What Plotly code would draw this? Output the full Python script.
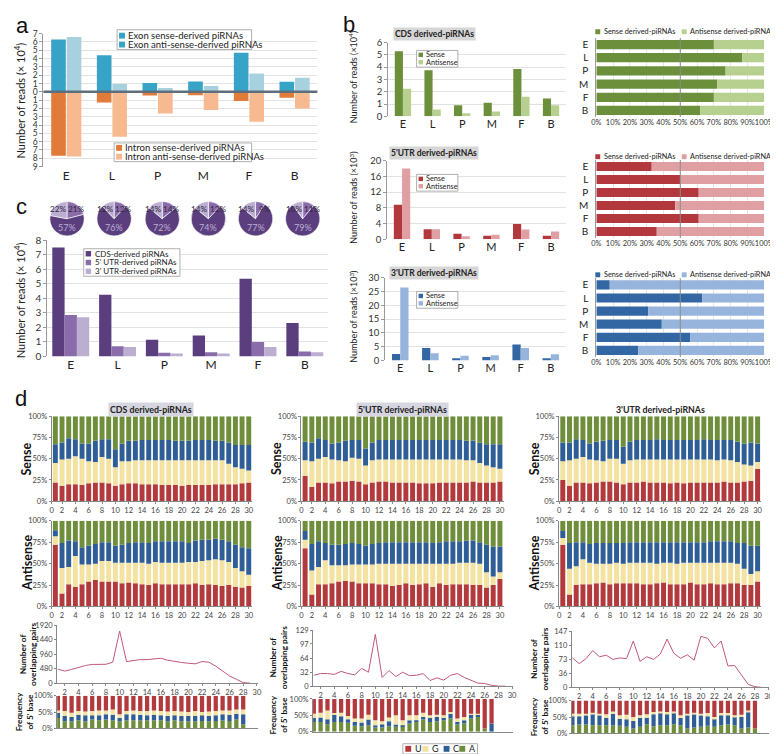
import numpy as np
import plotly.graph_objects as go

W, H = 778, 754
FONT = "Lato, 'Open Sans', 'DejaVu Sans', sans-serif"
LFONT = "'Liberation Sans', Arial, sans-serif"

cats = ['E', 'L', 'P', 'M', 'F', 'B']

# ---------------- panel a (reads x10^4)
exon_sense = [6.3, 4.4, 1.05, 1.25, 4.7, 1.2]
exon_antisense = [6.6, 0.95, 0.45, 0.7, 2.2, 1.7]
intron_sense = [7.7, 1.3, 0.45, 0.4, 1.1, 0.7]
intron_antisense = [7.8, 5.4, 2.6, 2.2, 3.6, 2.0]
a_ticks = list(range(-9, 8))
a_ticktext = [str(abs(v)) for v in a_ticks]

# ---------------- panel c (reads x10^4, pie %)
c_cds = [7.5, 4.25, 1.15, 1.45, 5.35, 2.3]
c_utr5 = [2.85, 0.7, 0.25, 0.3, 1.0, 0.35]
c_utr3 = [2.7, 0.65, 0.2, 0.2, 0.65, 0.3]
pie_cds = [57, 76, 72, 74, 77, 79]
pie_utr5 = [21, 12, 14, 12, 9, 11]
pie_utr3 = [22, 12, 14, 14, 14, 10]

# ---------------- panel b
cds_sense = [5.3, 3.75, 0.9, 1.1, 3.85, 1.45]          # x10^4
cds_antisense = [2.25, 0.55, 0.25, 0.4, 1.6, 0.9]
utr5_sense = [8.8, 2.6, 1.4, 0.9, 3.9, 0.9]             # x10^3
utr5_antisense = [18.0, 2.6, 0.8, 1.2, 2.5, 2.0]
utr3_sense = [2.3, 4.5, 0.8, 1.2, 5.8, 0.8]             # x10^3
utr3_antisense = [26.5, 2.6, 1.7, 1.9, 4.5, 2.2]
cds_prop_sense = [70, 87, 77, 72, 70, 62]
cds_prop_anti = [30, 13, 23, 28, 30, 38]
utr5_prop_sense = [33, 50, 61, 47, 61, 36]
utr5_prop_anti = [67, 50, 39, 53, 39, 64]
utr3_prop_sense = [8, 63, 31, 39, 56, 25]
utr3_prop_anti = [92, 37, 69, 61, 44, 75]
pct_ticks = [0, .1, .2, .3, .4, .5, .6, .7, .8, .9, 1]
pct_text = ['0%', '10%', '20%', '30%', '40%', '50%', '60%', '70%', '80%', '90%', '100%']

# ---------------- panel d
pos30 = list(range(1, 31))
cds_s_U = [22,18,20,20,19,21,22,22,21,18,20,21,21,20,20,20,19,19,19,18,19,19,19,19,20,20,20,20,21,22]
cds_s_G = [23,31,30,33,31,26,24,30,29,22,27,26,27,28,28,28,29,29,29,30,29,29,29,29,28,28,24,20,17,14]
cds_s_C = [22,20,24,20,18,21,25,21,23,21,21,24,23,24,24,24,24,24,23,23,23,24,24,24,23,23,25,26,28,30]
cds_s_A = [33,31,26,27,32,32,29,27,27,39,32,29,29,28,28,28,28,28,29,29,29,28,28,28,29,29,31,34,34,34]
cds_a_U = [72,15,26,23,26,29,31,29,29,29,27,28,27,26,25,27,26,26,26,26,26,27,25,26,25,24,25,23,22,24]
cds_a_G = [10,30,20,36,23,20,19,24,24,22,24,23,24,25,25,25,25,25,25,25,26,25,28,28,30,30,27,22,19,13]
cds_a_C = [7,29,31,17,20,22,23,22,22,20,21,23,24,24,24,24,25,25,25,25,22,25,25,24,24,24,24,27,28,31]
cds_a_A = [11,26,23,24,31,29,27,25,25,29,28,26,25,25,26,24,24,24,24,24,26,23,22,22,21,22,24,28,31,32]

u5_s_U = [30,17,22,22,21,23,23,24,23,20,22,23,23,22,22,22,22,21,21,21,22,22,22,22,22,23,22,22,22,23]
u5_s_G = [18,30,28,30,28,25,24,27,27,22,26,26,26,27,27,27,27,28,28,28,27,27,27,27,26,25,23,20,18,15]
u5_s_C = [22,22,24,20,19,21,24,21,22,20,21,23,23,23,23,23,23,23,23,23,23,23,23,23,23,23,24,25,27,29]
u5_s_A = [30,31,26,28,32,31,29,28,28,38,31,28,28,28,28,28,28,28,28,28,28,28,28,28,29,29,31,33,33,33]
u5_a_U = [68,14,26,26,27,29,30,29,27,27,27,26,26,24,25,27,25,26,27,23,27,25,26,26,26,25,25,22,25,32]
u5_a_G = [10,28,20,28,21,19,18,20,22,22,22,24,24,26,25,23,25,24,23,27,23,25,24,25,25,26,25,18,10,8]
u5_a_C = [10,31,30,20,24,24,25,25,24,22,24,24,25,25,25,25,25,25,25,24,25,26,26,25,26,26,25,32,35,30]
u5_a_A = [12,27,24,26,28,28,27,26,27,29,27,26,25,25,25,25,25,25,25,26,25,24,24,24,23,23,25,28,30,30]

u3_s_U = [25,18,22,22,21,22,23,23,22,20,22,22,23,22,22,22,21,22,21,22,22,22,22,22,23,22,22,23,24,38]
u3_s_G = [22,30,28,30,28,26,24,27,28,24,26,27,26,27,27,27,28,27,28,27,27,27,27,26,26,26,24,20,18,8]
u3_s_C = [22,21,23,20,19,22,24,22,22,20,22,23,23,23,24,23,23,23,23,23,23,24,23,24,23,24,24,25,27,22]
u3_s_A = [31,31,27,28,32,30,29,28,28,36,30,28,28,28,27,28,28,28,28,28,28,27,28,28,28,28,30,32,31,32]
u3_a_U = [72,14,25,26,26,27,28,26,27,27,27,27,26,26,27,28,26,26,26,28,26,26,27,26,26,27,27,25,25,29]
u3_a_G = [8,30,22,29,25,23,22,24,24,23,24,24,25,25,23,23,25,24,25,23,25,25,24,25,25,24,23,19,13,12]
u3_a_C = [8,30,28,20,22,24,24,24,23,24,24,24,24,24,25,24,24,25,24,24,24,24,25,25,25,25,24,30,33,30]
u3_a_A = [12,26,25,25,27,26,26,26,26,26,25,25,25,25,25,25,25,25,25,25,25,25,24,24,24,24,26,26,29,29]

pos29 = list(range(1, 30))
ov_cds = [465,400,455,520,585,620,618,625,695,1725,715,750,780,780,815,825,760,715,685,660,640,715,695,565,400,240,130,20,0]
ov_utr5 = [25,29,29,27,34,29,26,41,32,119,20,36,22,32,24,25,29,13,19,14,25,29,20,14,7,6,2,0,0]
ov_utr3 = [77,62,75,96,80,84,73,77,75,121,68,80,73,87,126,89,76,85,71,133,128,103,121,56,57,34,8,2,0]
ov_ticks_cds = [0, 480, 960, 1440, 1920]
ov_ticks_utr5 = [0, 32, 64, 97, 129]
ov_ticks_utr3 = [0, 36, 73, 110, 147]

fq_cds_A = [32,22,22,25,22,27,25,27,25,22,24,25,24,25,24,25,22,25,22,22,22,23,22,23,24,23,27,13]
fq_cds_C = [15,16,13,17,18,13,15,16,17,10,19,18,18,15,18,15,16,15,16,16,16,17,16,17,19,19,18,30]
fq_cds_G = [8,15,13,11,12,13,15,12,16,11,10,12,11,13,13,13,14,13,14,12,15,10,14,13,12,13,13,15]
fq_cds_U = [45,47,52,47,48,47,45,45,42,57,47,45,47,47,45,47,48,47,48,50,47,50,48,47,45,45,42,42]
fq_u5_A = [30,30,23,30,30,27,18,17,20,13,13,17,15,15,25,30,37,30,32,35,40,22,25,40,45,10,0]
fq_u5_C = [12,13,15,22,17,11,12,11,17,7,10,15,7,5,10,5,8,15,13,10,15,8,10,13,7,0,25]
fq_u5_G = [13,15,27,5,11,10,10,12,15,15,9,11,28,15,15,15,13,5,7,5,5,10,10,2,3,0,0]
fq_u5_U = [45,42,35,43,42,52,60,60,48,65,68,57,50,65,50,50,42,50,48,50,40,60,55,45,45,90,75]
fq_u3_A = [25,27,27,25,25,25,25,23,20,15,20,28,22,25,25,28,25,15,18,20,23,20,25,27,25,15,18,15]
fq_u3_C = [27,25,28,33,30,23,35,22,23,23,28,20,36,37,35,35,22,40,40,35,29,25,32,30,25,35,47,0]
fq_u3_G = [8,8,5,5,5,10,7,10,14,12,7,10,7,5,5,4,8,5,5,5,10,5,5,5,5,7,5,0]
fq_u3_U = [40,40,40,37,40,42,33,45,43,50,45,42,35,33,35,33,45,40,37,40,38,50,38,38,45,43,30,85]

# ---------------- colours
C_EXS, C_EXA, C_INS, C_INA = '#37a3c6', '#a7d1de', '#e07b39', '#f7b990'
C_CDS, C_U5, C_U3 = '#5b3e7e', '#8b6cab', '#bbaed1'
G_D, G_L = '#6b8f3a', '#b7d08f'
R_D, R_L = '#b2383d', '#e0a0a3'
B_D, B_L = '#3367a3', '#97b4dc'
RED, YEL, BLU, GRN = '#b23a3c', '#f3e2a0', '#2f5e97', '#6f8e3b'
OV_LINE = '#c0587a'

fig = go.Figure()
layout = dict(width=W, height=H, margin=dict(l=0, r=0, t=0, b=0), autosize=False,
              paper_bgcolor='white', plot_bgcolor='rgba(0,0,0,0)', showlegend=False,
              barmode='overlay', hovermode=False,
              font=dict(family=FONT, size=10, color='#333'))
shapes, annotations = [], []


def X(x):
    return x / W


def Y(y):
    return 1 - y / H


def axes(n, x0, x1, y0, y1, xa, ya):
    s = '' if n == 1 else str(n)
    layout['xaxis' + s] = dict(domain=[X(x0), X(x1)], anchor='y' + s, fixedrange=True, **xa)
    layout['yaxis' + s] = dict(domain=[Y(y1), Y(y0)], anchor='x' + s, fixedrange=True, **ya)
    return 'x' + s, 'y' + s


def text(x, y, s, size=10, color='#222', bold=False, angle=0, xanchor='center', bg=None, family=FONT):
    if bold:
        s = '<b>' + s + '</b>'
    d = dict(x=X(x), y=Y(y), xref='paper', yref='paper', text=s, showarrow=False,
             xanchor=xanchor, yanchor='middle', textangle=angle,
             font=dict(size=size, color=color, family=family))
    if bg:
        d.update(bgcolor=bg, borderpad=1)
    annotations.append(d)


def rect(x0, y0, x1, y1, fill='white', line='#9a9a9a', lw=0.8):
    shapes.append(dict(type='rect', xref='paper', yref='paper', x0=X(x0), x1=X(x1),
                       y0=Y(y1), y1=Y(y0), fillcolor=fill,
                       line=dict(color=line, width=lw), layer='above'))


def key(x, y, color, label, size=9, sq=6):
    rect(x, y - sq / 2, x + sq, y + sq / 2, fill=color, line=color, lw=0)
    text(x + sq + 1.5, y, label, size=size, xanchor='left')


def cat_x(size=11):
    return dict(type='category', categoryorder='array', categoryarray=cats, range=[-0.5, 5.5],
                tickmode='array', tickvals=cats,
                showgrid=False, ticks='', showline=False, tickfont=dict(size=size, color='#222'))


def num_y(rng, dtick, size=9.5, **kw):
    d = dict(range=rng, dtick=dtick, showgrid=True, gridcolor='#e2e2e2', gridwidth=1,
             showline=True, linecolor='#9a9a9a', ticks='outside', ticklen=3, tickcolor='#9a9a9a',
             tickfont=dict(size=size, color='#333'), zeroline=False)
    d.update(kw)
    return d


def bar(xa, ya, x, y, color, width, offset=None, base=None, orient='v'):
    kw = dict(width=width, marker=dict(color=color, line=dict(width=0)), xaxis=xa, yaxis=ya,
              orientation=orient, hoverinfo='skip')
    if offset is not None:
        kw['offset'] = offset
    if base is not None:
        kw['base'] = base
    if orient == 'v':
        fig.add_trace(go.Bar(x=x, y=y, **kw))
    else:
        fig.add_trace(go.Bar(x=y, y=x, **kw))


# ================= panel a
xa, ya = axes(1, 31, 310, 19, 154, cat_x(12),
              num_y([-9, 7], None, size=8.5, tickvals=a_ticks, ticktext=a_ticktext))
bar(xa, ya, cats, exon_sense, C_EXS, 0.32, offset=-0.33)
bar(xa, ya, cats, exon_antisense, C_EXA, 0.32, offset=0.01)
bar(xa, ya, cats, [-v for v in intron_sense], C_INS, 0.32, offset=-0.33)
bar(xa, ya, cats, [-v for v in intron_antisense], C_INA, 0.32, offset=0.01)
shapes.append(dict(type='line', xref='x domain', yref='y', x0=0, x1=1, y0=0, y1=0,
                   line=dict(color='#5f6e7d', width=2.5), layer='above'))
text(10, 11, 'a', size=22, color='#111', family=LFONT)
text(7, 87, 'Number of reads (× 10<sup>4</sup>)', size=11, angle=-90)
rect(106, 15, 243, 35)
key(108, 21, C_EXS, 'Exon sense-derived piRNAs', size=9.5)
key(108, 30, C_EXS, 'Exon anti-sense-derived piRNAs', size=9.5)
rect(103, 130, 243, 149)
key(105, 135, C_INS, 'Intron sense-derived piRNAs', size=9.5)
key(105, 144, C_INA, 'Intron anti-sense-derived piRNAs', size=9.5)

# ================= panel c
text(9, 195, 'c', size=22, color='#111', family=LFONT)
pie_x = [55, 103, 152, 199, 247, 295]
PIE_Y, PIE_R = 207, 17.5
for i in range(6):
    cx = pie_x[i]
    fig.add_trace(go.Pie(values=[pie_utr5[i], pie_cds[i], pie_utr3[i]],
                         labels=["5' UTR", 'CDS', "3' UTR"], sort=False, direction='clockwise',
                         rotation=0, textinfo='none', hoverinfo='skip',
                         marker=dict(colors=[C_U5, C_CDS, C_U3], line=dict(color='white', width=0.6)),
                         domain=dict(x=[X(cx - PIE_R), X(cx + PIE_R)],
                                     y=[Y(PIE_Y + PIE_R), Y(PIE_Y - PIE_R)]),
                         showlegend=False))
    # slice labels around each pie centre (3'UTR upper-left, 5'UTR upper-right, CDS below)
    text(cx - 9.3, PIE_Y - 9.5, '%d%%' % pie_utr3[i], size=8.2, color='#33263f')
    text(cx + 9.3, PIE_Y - 9.5, '%d%%' % pie_utr5[i], size=8.2, color='#33263f')
    text(cx, PIE_Y + 9, '%d%%' % pie_cds[i], size=9, color='#bdaed6')
xa, ya = axes(2, 35, 321, 229, 347, cat_x(12), num_y([0, 8], 1, size=10))
bar(xa, ya, cats, c_cds, C_CDS, 0.263, offset=-0.395)
bar(xa, ya, cats, c_utr5, C_U5, 0.263, offset=-0.132)
bar(xa, ya, cats, c_utr3, C_U3, 0.263, offset=0.131)
text(7, 290, 'Number of reads (× 10<sup>4</sup>)', size=11, angle=-90)
rect(72, 237.5, 170, 265.5)
key(74, 242.6, C_CDS, 'CDS-derived piRNAs', size=8, sq=5.5)
key(74, 251.5, C_U5, "5' UTR-derived piRNAs", size=8, sq=5.5)
key(74, 260.4, C_U3, "3' UTR-derived piRNAs", size=8, sq=5.5)

# ================= panel b
text(342, 10, 'b', size=22, color='#111', family=LFONT)
bsets = [
    (3, 382, 28, 103, [0, 6], 1, cds_sense, cds_antisense, G_D, G_L, 'CDS derived-piRNAs', 19, 4, 36),
    (4, 381, 148, 228, [0, 20], 4, utr5_sense, utr5_antisense, R_D, R_L, "5'UTR derived-piRNAs", 140, 3, 162),
    (5, 379, 267, 351, [0, 30], 5, utr3_sense, utr3_antisense, B_D, B_L, "3'UTR derived-piRNAs", 262, 3, 281),
]
for n, x0, y0, y1, rng, dt, s_vals, a_vals, cd, cl, title, ty, exp, ly in bsets:
    xa, ya = axes(n, x0, 563, y0, y1, cat_x(11), num_y(rng, dt, size=9.5))
    bar(xa, ya, cats, s_vals, cd, 0.275, offset=-0.275)
    bar(xa, ya, cats, a_vals, cl, 0.275, offset=0.0)
    text(429, ty, title, size=8.5, bold=True, bg='#d6d6d6')
    text(347, (y0 + y1) / 2 - 2, 'Number of reads (×10<sup>%d</sup>)' % exp, size=9, angle=-90)
    rect(411, ly, 453, ly + 17)
    key(413, ly + 4.5, cd, 'Sense', size=7.3, sq=4.5)
    key(413, ly + 12, cl, 'Antisense', size=7.3, sq=4.5)

psets = [
    (6, 23.3, 103.7, cds_prop_sense, cds_prop_anti, G_D, G_L, 17),
    (7, 147.4, 226.6, utr5_prop_sense, utr5_prop_anti, R_D, R_L, 144),
    (8, 267.6, 347.5, utr3_prop_sense, utr3_prop_anti, B_D, B_L, 264),
]
for n, y0, y1, sv, av, cd, cl, ly in psets:
    xa, ya = axes(n, 594, 765, y0, y1,
                  dict(range=[0, 1], tickmode='array', tickvals=pct_ticks, ticktext=pct_text,
                       tickangle=0, showgrid=True, gridcolor='#e6e6e6', ticks='', showline=False,
                       zeroline=False, tickfont=dict(size=7.4, color='#333')),
                  dict(type='category', categoryorder='array', categoryarray=cats,
                       tickmode='array', tickvals=cats,
                       range=[5.5, -0.5], ticks='', showline=True, linecolor='#9a9a9a',
                       ticklabelstandoff=5,
                       showgrid=False, tickfont=dict(size=10, color='#222')))
    sfrac = [v / 100 for v in sv]
    afrac = [v / 100 for v in av]
    bar(xa, ya, cats, sfrac, cd, 0.7, orient='h', base=0)
    bar(xa, ya, cats, afrac, cl, 0.7, orient='h', base=sfrac)
    shapes.append(dict(type='line', xref=xa, yref=ya + ' domain', x0=0.5, x1=0.5, y0=0, y1=1,
                       line=dict(color='#8c8c8c', width=1), layer='above'))
    key(593, ly, cd, 'Sense derived-piRNAs', size=7.3, sq=5)
    key(681, ly, cl, 'Antisense derived-piRNAs', size=7.3, sq=5)

# ================= panel d
text(8, 390, 'd', size=22, color='#111', family=LFONT)
ax_line = dict(showline=True, linecolor='#888', ticks='outside', ticklen=2, tickcolor='#888',
               zeroline=False, showgrid=False, tickfont=dict(size=7.5, color='#444'))
xs_ticks = [0.45] + list(range(2, 31, 2))
xs_text = ['0'] + [str(v) for v in range(2, 31, 2)]
pct_y = dict(range=[0, 100], tickvals=[0, 25, 50, 75, 100],
             ticktext=['0%', '25%', '50%', '75%', '100%'], **ax_line)


def stack(xa, ya, x, layers, colors, width):
    base = np.zeros(len(x))
    for vals, col in zip(layers, colors):
        bar(xa, ya, x, vals, col, width, base=base.copy())
        base = base + np.array(vals, dtype=float)


cols = [
    dict(sx=(39.4, 243.8), ox=(45.0, 249.1), oy=(620, 679), fy=(691.7, 725), cx=141,
         title='CDS derived-piRNAs', tbg='#d6d6e0', lab=14, olab=15, flab=11.5,
         s=(cds_s_U, cds_s_G, cds_s_C, cds_s_A), a=(cds_a_U, cds_a_G, cds_a_C, cds_a_A),
         ov=ov_cds, ot=ov_ticks_cds, fq=(fq_cds_A, fq_cds_C, fq_cds_G, fq_cds_U)),
    dict(sx=(293.7, 499.6), ox=(305.6, 508.9), oy=(625, 682), fy=(695, 728.3), cx=397,
         title="5'UTR derived-piRNAs", tbg='#d6d6e0', lab=269, olab=270, flab=270,
         s=(u5_s_U, u5_s_G, u5_s_C, u5_s_A), a=(u5_a_U, u5_a_G, u5_a_C, u5_a_A),
         ov=ov_utr5, ot=ov_ticks_utr5, fq=(fq_u5_A, fq_u5_C, fq_u5_G, fq_u5_U)),
    dict(sx=(556.1, 762.0), ox=(569.0, 770.0), oy=(626, 683.3), fy=(696.7, 730), cx=659,
         title="3'UTR derived-piRNAs", tbg=None, lab=531, olab=536, flab=537,
         s=(u3_s_U, u3_s_G, u3_s_C, u3_s_A), a=(u3_a_U, u3_a_G, u3_a_C, u3_a_A),
         ov=ov_utr3, ot=ov_ticks_utr3, fq=(fq_u3_A, fq_u3_C, fq_u3_G, fq_u3_U)),
]
n = 9
for c in cols:
    xsd = dict(range=[0.45, 30.55], tickvals=xs_ticks, ticktext=xs_text, **ax_line)
    xa, ya = axes(n, c['sx'][0], c['sx'][1], 407.7, 494, xsd, pct_y)
    stack(xa, ya, pos30, c['s'], [RED, YEL, BLU, GRN], 0.74)
    n += 1
    xa, ya = axes(n, c['sx'][0], c['sx'][1], 514, 601, xsd, pct_y)
    stack(xa, ya, pos30, c['a'], [RED, YEL, BLU, GRN], 0.74)
    n += 1
    xod = dict(range=[0.9, 30.1], tickvals=list(range(2, 31, 2)), **ax_line)
    xa, ya = axes(n, c['ox'][0], c['ox'][1], c['oy'][0], c['oy'][1], xod,
                  dict(range=[0, c['ot'][-1]], tickvals=c['ot'], **ax_line))
    fig.add_trace(go.Scatter(x=pos29, y=c['ov'], mode='lines', line=dict(color=OV_LINE, width=1),
                             xaxis=xa, yaxis=ya, hoverinfo='skip'))
    n += 1
    xfd = dict(range=[0.9, 30.1], showticklabels=False, showline=True, linecolor='#888',
               ticks='', zeroline=False, showgrid=False)
    xa, ya = axes(n, c['ox'][0], c['ox'][1], c['fy'][0], c['fy'][1], xfd,
                  dict(range=[0, 100], tickvals=[0, 50, 100], ticktext=['0%', '50%', '100%'], **ax_line))
    posf = list(range(1, len(c['fq'][0]) + 1))
    stack(xa, ya, posf, c['fq'], [GRN, BLU, YEL, RED], 0.62)
    n += 1
    text(c['cx'], 400.5, c['title'], size=8.8, bold=True, bg=c['tbg'])
    text(c['lab'], 451, 'Sense', size=12.5, bold=True, angle=-90, color='#111')
    text(c['lab'], 557, 'Antisense', size=12.5, bold=True, angle=-90, color='#111')
    text(c['olab'], (c['oy'][0] + c['oy'][1]) / 2, 'Number of<br>overlapping pairs', size=8.3,
         bold=True, angle=-90, color='#111')
    text(c['flab'], (c['fy'][0] + c['fy'][1]) / 2, 'Frequency<br>of 5\' base', size=8.3,
         bold=True, angle=-90, color='#111')

rect(397, 740.5, 473, 751)
key(399.5, 745.7, RED, 'U', size=9)
key(417, 745.7, YEL, 'G', size=9)
key(438.5, 745.7, BLU, 'C', size=9)
key(454.5, 745.7, GRN, 'A', size=9)

layout['shapes'] = shapes
layout['annotations'] = annotations
fig.update_layout(**layout)
fig.write_html('out.html')
